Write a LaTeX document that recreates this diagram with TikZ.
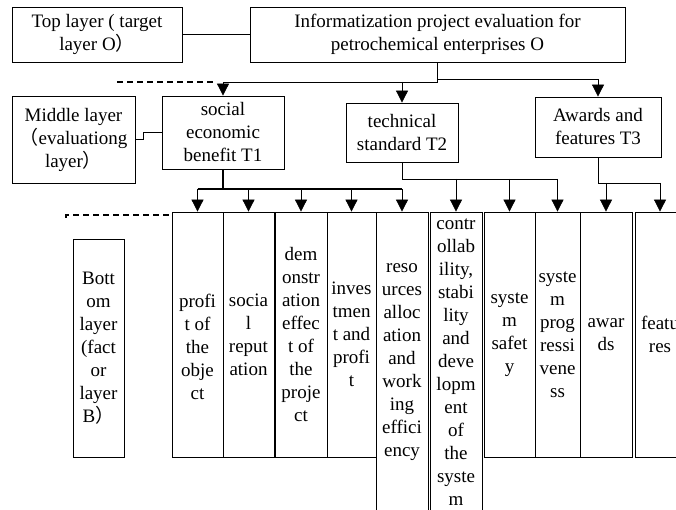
\documentclass[tikz,border=0pt]{standalone}
\usepackage{fontspec}
\setmainfont{Liberation Serif}
\newfontfamily\cjk{Noto Sans CJK SC}
\usetikzlibrary{arrows.meta}
\newcommand{\boxfont}{\fontsize{19}{23}\selectfont}
\newcommand{\fwl}{{\cjk （}}
\newcommand{\fwr}{{\cjk ）}}
\begin{document}
\begin{tikzpicture}[x=1pt,y=-1pt,
  box/.style={draw, line width=0.8pt, inner sep=0pt, align=center, font=\boxfont},
  arr/.style={-{Triangle[width=12pt,length=12pt]}},
  conn/.style={line width=0.8pt},
  dashline/.style={line width=1.1pt, dash pattern=on 6pt off 4pt}]
\useasboundingbox (0,0) rectangle (676,510);
% top layer
\node[box, minimum width=170pt, minimum height=55pt] (top) at (97,34.5) {Top layer ( target\\layer O\fwr};
\node[box, minimum width=375pt, minimum height=55pt] (O) at (437.5,34.5) {Informatization project evaluation for\\petrochemical enterprises O};
% middle layer
\node[box, minimum width=123pt, minimum height=87pt] (mid) at (73.5,139.5) {Middle layer\\\fwl evaluationg\\layer\fwr};
\node[box, minimum width=122pt, minimum height=73pt] (T1) at (223,132.5) {social\\economic\\benefit T1};
\node[box, minimum width=112pt, minimum height=59pt] (T2) at (402,132.5) {technical\\standard T2};
\node[box, minimum width=126pt, minimum height=60pt] (T3) at (598,127) {Awards and\\features T3};
% bottom layer
\node[box, minimum width=51pt, minimum height=218pt] (bot) at (98.5,348) {Bott\\om\\layer\\(fact\\or\\layer\\B\fwr};
\node[box, minimum width=51pt, minimum height=245pt] (B1) at (197.5,334.5) {\strut\\profi\\t of\\the\\obje\\ct};
\node[box, minimum width=51pt, minimum height=245pt] (B2) at (248.5,334.5) {socia\\l\\reput\\ation};
\node[box, minimum width=52pt, minimum height=245pt] (B3) at (301,334.5) {dem\\onstr\\ation\\effec\\t of\\the\\proje\\ct};
\node[box, minimum width=49pt, minimum height=245pt] (B4) at (351.5,334.5) {inves\\tmen\\t and\\profi\\t};
\node[box, minimum width=52pt, minimum height=300pt] (B5) at (402,362) {reso\\urces\\alloc\\ation\\and\\work\\ing\\effici\\ency};
\node[box, minimum width=52pt, minimum height=300pt] (B6) at (456,362) {contr\\ollab\\ility,\\stabi\\lity\\and\\deve\\lopm\\ent\\of\\the\\syste\\m};
\node[box, minimum width=51pt, minimum height=245pt] (B7) at (509.5,334.5) {syste\\m\\safet\\y};
\node[box, minimum width=45pt, minimum height=245pt] (B8) at (557.5,334.5) {syste\\m\\prog\\ressi\\vene\\ss};
\node[box, minimum width=52pt, minimum height=245pt] (B9) at (606,334.5) {awar\\ds};
\node[box, minimum width=50pt, minimum height=245pt] (B10) at (660,334.5) {featu\\res};
% junction coordinates
\coordinate (jO) at (437.5,82);
\coordinate (jO3) at (437.5,79);
\coordinate (j1) at (223,189);
\coordinate (j2) at (402,179);
\coordinate (j3) at (598,183);
\coordinate (dA) at (117,82);
\coordinate (dB) at (216,82);
\coordinate (dC) at (66,218);
\coordinate (dD) at (66,215);
\coordinate (dE) at (169,215);
\coordinate (dF) at (169,212);
% connectors top
\draw[conn] (top) -- (O);
\draw[conn] (O.south) -- (jO);
\draw[conn, arr] (jO) -| (T1.north);
\draw[conn, arr] (jO3) -| (T3.north);
\draw[conn, arr] (T2.north |- jO) -- (T2.north);
\draw[dashline] (dA) -- (dB);
\draw[conn] (mid.east) -- ++(8,0) |- (T1.west);
% T1 tree
\draw[line width=1.4pt] (T1.south) -- (j1);
\draw[line width=1.2pt] (B1.north |- j1) -- (B5.north |- j1);
\foreach \b in {B1,B2,B3,B4,B5}{\draw[conn, arr] (\b.north |- j1) -- (\b.north);}
% T2 tree
\draw[conn] (T2.south) -- (j2) -- (B8.north |- j2);
\foreach \b in {B6,B7,B8}{\draw[conn, arr] (\b.north |- j2) -- (\b.north);}
% T3 tree
\draw[conn] (T3.south) -- (j3) -- (B10.north |- j3);
\foreach \b in {B9,B10}{\draw[conn, arr] (\b.north |- j3) -- (\b.north);}
% bottom dashed
\draw[dashline] (dC) -- (dD) -- (dE) -- (dF);
\end{tikzpicture}
\end{document}
